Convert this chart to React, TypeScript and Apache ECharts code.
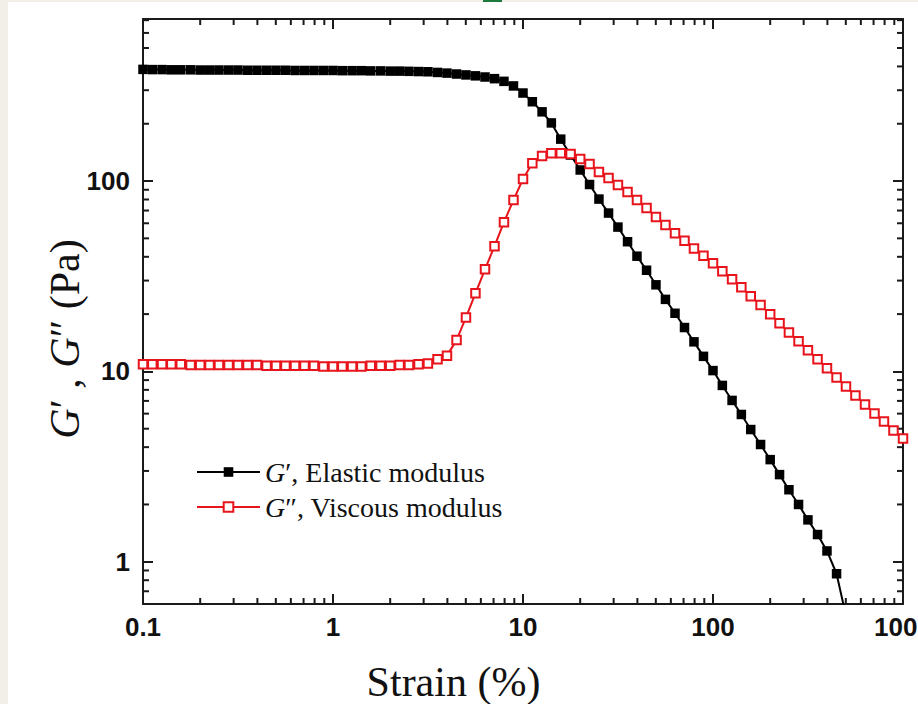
import React, { useEffect, useRef } from 'react';
import * as echarts from 'echarts';

// Strain (%) – log spaced sampling, 20 points per decade
const strain = [
  0.1, 0.112, 0.126, 0.141, 0.158, 0.178, 0.2, 0.224, 0.251, 0.282, 0.316, 0.355, 0.398, 0.447, 0.501, 0.562, 0.631, 0.708, 0.794, 0.891,
  1, 1.12, 1.26, 1.41, 1.58, 1.78, 2, 2.24, 2.51, 2.82, 3.16, 3.55, 3.98, 4.47, 5.01, 5.62, 6.31, 7.08, 7.94, 8.91,
  10, 11.2, 12.6, 14.1, 15.8, 17.8, 20, 22.4, 25.1, 28.2, 31.6, 35.5, 39.8, 44.7, 50.1, 56.2, 63.1, 70.8, 79.4, 89.1,
  100, 112, 126, 141, 158, 178, 200, 224, 251, 282, 316, 355, 398, 447, 501, 562, 631, 708, 794, 891,
  1000,
];

// G' elastic modulus (Pa)
const gPrime = [
  386, 385, 385, 384, 384, 384, 383, 383, 383, 383, 383, 382, 382, 382, 382, 382, 381, 381, 381, 381,
  381, 380, 380, 380, 379, 379, 378, 378, 377, 376, 375,
  372, 369, 365, 361, 357, 352, 345, 334, 316, 290, 261, 231, 202, 166, 137,
  114.3, 95.9, 80.4, 67.9, 57.3, 48.0, 40.3, 34.0, 28.5, 23.9, 20.2, 17.0, 14.3, 12.0, 10.1,
  8.44, 7.04, 5.94, 4.95, 4.13, 3.44, 2.87, 2.39, 2.0, 1.66, 1.39, 1.14, 0.865, 0.52,
];

// G'' viscous modulus (Pa)
const gDoublePrime = [
  10.9, 10.9, 10.9, 10.9, 10.9, 10.8, 10.8, 10.8, 10.8, 10.8, 10.8, 10.8, 10.8, 10.7, 10.7, 10.7, 10.7, 10.7, 10.7, 10.6,
  10.6, 10.6, 10.6, 10.6, 10.7, 10.7, 10.7, 10.8, 10.8, 10.9,
  11.0, 11.6, 12.1, 14.6, 19.2, 25.7, 34.4, 45.5, 60.8, 79.4, 102.5, 124, 135.5, 140, 140, 138.7, 130.6, 122.8, 111.4, 103.7,
  95.3, 87.5, 79.4, 72.1, 64.7, 58.7, 53.2, 48.5, 44.2, 40.5,
  37.0, 33.6, 30.5, 27.7, 24.8, 22.3, 19.95, 17.9, 16.0, 14.4, 12.9, 11.6, 10.4, 9.3, 8.34, 7.48, 6.71, 6.01, 5.46, 4.89, 4.44,
];

const seriesNames = ['G′, Elastic modulus', 'G″, Viscous modulus'];
const xTickLabels = ['0.1', '1', '10', '100', '1000'];
const yTickLabels = ['1', '10', '100'];
const xMinorTicks = [
  0.2, 0.3, 0.4, 0.5, 0.6, 0.7, 0.8, 0.9,
  2, 3, 4, 5, 6, 7, 8, 9,
  20, 30, 40, 50, 60, 70, 80, 90,
  200, 300, 400, 500, 600, 700, 800, 900,
];
const yMinorTicks = [
  0.7, 0.8, 0.9,
  2, 3, 4, 5, 6, 7, 8, 9,
  20, 30, 40, 50, 60, 70, 80, 90,
  200, 300, 400, 500, 600, 700,
];

const INK = '#1a1a1a';
const RED = '#e8141c';

export default function App() {
  const ref = useRef<HTMLDivElement>(null);

  useEffect(() => {
    document.body.style.background = '#f2efe8';
    const chart = echarts.init(ref.current as HTMLDivElement, null, { renderer: 'svg' });

    const powLabel = (v: number, labels: string[], offset: number) => {
      const l = Math.log10(v);
      const r = Math.round(l);
      if (Math.abs(l - r) > 1e-6) return '';
      return labels[r + offset] ?? '';
    };

    const labelFont = {
      fontFamily: 'Liberation Sans',
      fontWeight: 'bold' as const,
      fontSize: 26,
      color: '#111',
    };
    const axisLine = { show: true, lineStyle: { color: INK, width: 2 } };
    const majorTick = { show: true, inside: true, length: 10, lineStyle: { color: INK, width: 2 } };

    const xBase = { type: 'log' as const, logBase: 10, min: 0.1, max: 1000, splitLine: { show: false }, axisLine, axisTick: majorTick };
    const yBase = { type: 'log' as const, logBase: 10, min: 0.6, max: 710, splitLine: { show: false }, axisLine, axisTick: majorTick };

    const tickLine = (x1: number, y1: number, x2: number, y2: number) => ({
      type: 'line',
      shape: { x1, y1, x2, y2 },
      style: { stroke: INK, lineWidth: 2 },
    });

    const option: any = {
      animation: false,
      backgroundColor: '#ffffff',
      grid: { left: 135, top: 17, width: 760, height: 585, containLabel: false, outerBoundsMode: 'none' },
      xAxis: [
        {
          ...xBase,
          position: 'bottom',
          axisLabel: { ...labelFont, margin: 10, formatter: (v: number) => powLabel(v, xTickLabels, 1) },
        },
        { ...xBase, position: 'top', axisLabel: { show: false } },
      ],
      yAxis: [
        {
          ...yBase,
          position: 'left',
          axisLabel: { ...labelFont, margin: 13, formatter: (v: number) => powLabel(v, yTickLabels, 0) },
        },
        { ...yBase, position: 'right', axisLabel: { show: false } },
      ],
      legend: {
        data: seriesNames,
        orient: 'vertical',
        left: 188,
        top: 455,
        padding: 0,
        itemWidth: 63,
        itemHeight: 12,
        itemGap: 5,
        selectedMode: false,
        formatter: (name: string) => name.replace(/^G/, '{i|G}'),
        textStyle: {
          fontFamily: 'Liberation Serif',
          fontSize: 28,
          lineHeight: 30,
          color: '#111',
          rich: {
            i: { fontFamily: 'Liberation Serif', fontStyle: 'italic', fontSize: 28, lineHeight: 30, color: '#111' },
          },
        },
      },
      graphic: [
        {
          type: 'text',
          x: 445.5,
          y: 680,
          silent: true,
          style: {
            text: 'Strain (%)',
            fontFamily: 'Liberation Serif',
            fontSize: 42,
            fill: '#111',
            align: 'center',
            verticalAlign: 'middle',
          },
        },
        {
          type: 'text',
          x: 57,
          y: 337,
          rotation: Math.PI / 2,
          silent: true,
          style: {
            text: '{i|G}′ , {i|G}″ (Pa)',
            fontFamily: 'Liberation Serif',
            fontSize: 42,
            fill: '#111',
            align: 'center',
            verticalAlign: 'middle',
            rich: {
              i: { fontFamily: 'Liberation Serif', fontStyle: 'italic', fontSize: 42, fill: '#111' },
            },
          },
        },
      ],
      series: [
        {
          type: 'custom',
          name: 'xMinor',
          silent: true,
          clip: false,
          z: 1,
          data: xMinorTicks.map((v) => [v, 1]),
          renderItem: (params: any, api: any) => {
            const cs = params.coordSys;
            const x = api.coord([api.value(0), 1])[0];
            const yb = cs.y + cs.height;
            const yt = cs.y;
            return {
              type: 'group',
              children: [tickLine(x, yb, x, yb - 6), tickLine(x, yt, x, yt + 6)],
            };
          },
        },
        {
          type: 'custom',
          name: 'yMinor',
          silent: true,
          clip: false,
          z: 1,
          data: yMinorTicks.map((v) => [1, v]),
          renderItem: (params: any, api: any) => {
            const cs = params.coordSys;
            const y = api.coord([1, api.value(1)])[1];
            const xl = cs.x;
            const xr = cs.x + cs.width;
            return {
              type: 'group',
              children: [tickLine(xl, y, xl + 6, y), tickLine(xr, y, xr - 6, y)],
            };
          },
        },
        {
          type: 'line',
          name: seriesNames[0],
          data: gPrime.map((v, i) => [strain[i], v]),
          color: '#000',
          lineStyle: { color: '#000', width: 2 },
          symbol: 'rect',
          symbolSize: 9.5,
          showSymbol: true,
          showAllSymbol: true,
          itemStyle: { color: '#000' },
          clip: true,
          z: 3,
        },
        {
          type: 'line',
          name: seriesNames[1],
          data: gDoublePrime.map((v, i) => [strain[i], v]),
          color: RED,
          lineStyle: { color: RED, width: 2 },
          symbol: 'emptyRect',
          symbolSize: 8.5,
          showSymbol: true,
          showAllSymbol: true,
          itemStyle: { color: RED, borderWidth: 1.5 },
          clip: true,
          z: 4,
        },
      ],
    };

    chart.setOption(option);
    return () => chart.dispose();
  }, []);

  return (
    <>
      <div style={{ position: 'absolute', left: 483, top: 0, width: 19, height: 2, background: '#1e7a3c' }} />
      <div
        ref={ref}
        style={{ position: 'absolute', left: 8, top: 2, width: 910, height: 702, background: '#ffffff' }}
      />
    </>
  );
}
